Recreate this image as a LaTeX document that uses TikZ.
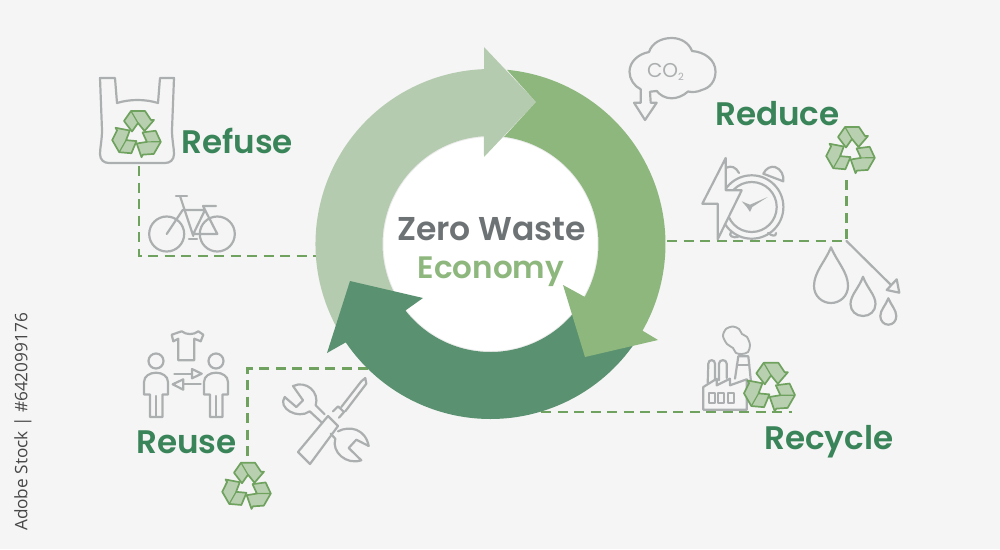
\documentclass[tikz,border=0pt]{standalone}
\usepackage{fontspec}
\setmainfont{Poppins}[BoldFont={Poppins SemiBold}]
\newfontfamily\creditfont{Open Sans}
\definecolor{pagegrey}{HTML}{F5F5F5}
\definecolor{lightring}{HTML}{B5CBB0}
\definecolor{midring}{HTML}{8DB77D}
\definecolor{darkring}{HTML}{5A9170}
\definecolor{labelgreen}{HTML}{3A8459}
\definecolor{titlegrey}{HTML}{6D7275}
\definecolor{icongrey}{HTML}{ACAFB0}
\definecolor{dashgreen}{HTML}{6FA25E}
\definecolor{bladefill}{HTML}{B9D0B0}

\tikzstyle{icon}=[draw=icongrey,line width=2.2pt,line join=round,line cap=round]
\tikzstyle{link}=[draw=dashgreen,line width=2.5pt,dash pattern=on 10pt off 6.5pt]
\tikzstyle{blade}=[draw=dashgreen,fill=bladefill,line width=1.7pt,line join=round]
\tikzstyle{steplabel}=[anchor=base west,inner sep=0pt,text=labelgreen,font=\fontsize{32.6}{33}\selectfont\bfseries]
\tikzstyle{title}=[anchor=base,inner sep=0pt,font=\fontsize{33}{33}\selectfont\bfseries]

\newcommand{\recyclesign}[3]{
	\begin{scope}[shift={(#1,#2)},scale=#3]
		\foreach \turn in {0,-120,-240} {
			\path[blade,rotate=\turn] (-13,-14) -- (-6,-24) -- (8,-24) -- (14,-15) -- (17,-15) -- (7.5,-4) -- (1,-12) -- (-5,-3.5) -- cycle;
			\path[blade,rotate=\turn,line width=1.2pt] (-6,-24) -- (1,-12);
		}
	\end{scope}
}

\begin{document}
\begin{tikzpicture}[x=1pt,y=-1pt]
	\fill[pagegrey] (0,0) rectangle (1000,549);
	\useasboundingbox (0,0) rectangle (1000,549);

	\coordinate (ringcentre) at (490.5,244);

	% links
	\coordinate (bagfoot) at (139,166);
	\coordinate (refusecorner) at (139,256);
	\coordinate (refuseend) at (316,256);
	\draw[link] (bagfoot) -- (refusecorner) -- (refuseend);
	\coordinate (reducestart) at (667,241);
	\coordinate (reducecorner) at (846.5,241);
	\coordinate (reducetop) at (846.5,178);
	\draw[link] (reducestart) -- (reducecorner) -- (reducetop);
	\coordinate (reusestart) at (368,368.5);
	\coordinate (reusecorner) at (247.5,368.5);
	\coordinate (reusefoot) at (247.5,458);
	\draw[link] (reusestart) -- (reusecorner) -- (reusefoot);
	\coordinate (recyclestart) at (541,412);
	\coordinate (recycleend) at (792,412);
	\draw[link] (recyclestart) -- (recycleend);

	% ring
	\draw[fill=white,draw=black!7,line width=2pt] (ringcentre) circle[radius=108];
	\fill[lightring] ([shift={(150:175)}]ringcentre) arc[start angle=150,end angle=267.9,radius=175]
		-- (484,47) -- (536,102) -- (484,157)
		-- ([shift={(266.5:108)}]ringcentre) arc[start angle=266.5,end angle=150,radius=108] -- cycle;
	\fill[darkring] ([shift={(32:175)}]ringcentre) arc[start angle=32,end angle=145.8,radius=175]
		-- (327,353) -- (350,281) -- (423,298)
		-- ([shift={(142:108)}]ringcentre) arc[start angle=142,end angle=32,radius=108] -- cycle;
	\fill[midring] ([shift={(-84.6:175)}]ringcentre) arc[start angle=-84.6,end angle=29.7,radius=175]
		-- (658,340) -- (585,357) -- (563,285)
		-- ([shift={(29.3:108)}]ringcentre) arc[start angle=29.3,end angle=-82.8,radius=108]
		-- (536,102) -- cycle;

	\node[title,text=titlegrey] (zerowaste) at (491.5,240.7) {Zero Waste};
	\node[title,text=midring,font=\fontsize{31}{31}\selectfont\bfseries] (economy) at (491,278) {Economy};

	\node[steplabel] (refuse) at (181,153) {Refuse};
	\node[steplabel] (reduce) at (715,125) {Reduce};
	\node[steplabel] (recycle) at (764,449) {Recycle};
	\node[steplabel] (reuse) at (136,453) {Reuse};

	% bag
	\draw[icon] (100,78) -- (115,78) -- (117,103) .. controls (130,99) and (145,99) .. (158,103) -- (160,78) -- (174,78)
		-- (172,130) .. controls (172,140) and (174,148) .. (174,154) .. controls (174,160) and (170,163) .. (165,163)
		-- (109,163) .. controls (104,163) and (100,160) .. (100,154) .. controls (100,148) and (102,140) .. (102,130) -- cycle;
	\recyclesign{137}{135}{1}

	% bicycle
	\draw[icon] (166.7,234) circle[radius=17.5];
	\draw[icon] (217.3,234) circle[radius=17.5];
	\draw[icon] (176,196) -- (187,196);
	\draw[icon] (180,196) -- (193.3,236);
	\draw[icon] (166.7,234) -- (182.7,210) -- (205,210) -- (193.3,234) -- (217.3,234) -- (203,206) -- (216,206);
	\draw[icon] (189,239) -- (197,239);

	% cloud
	\draw[icon] (640.7,89.3) .. controls (634,86) and (629.5,79) .. (629.5,71.7) .. controls (629.5,62) and (638,54) .. (649,52)
		.. controls (652,43) and (661,38) .. (671.7,38) .. controls (681,38) and (689,43) .. (692,51)
		.. controls (705,52) and (715.5,60) .. (715.5,71.7) .. controls (715.5,81) and (710,88) .. (701.7,90)
		.. controls (698,92) and (692,92.5) .. (688,91.5) .. controls (683,96) and (677,98.3) .. (671.7,98.3)
		.. controls (665,98.3) and (660,95) .. (656.7,91) -- (650,91.7) -- (650.7,102.7) -- (656.7,102.7) -- (645,120)
		-- (634,102.7) -- (640.7,102.7) -- cycle;
	\node[inner sep=0pt,text=icongrey,font=\fontsize{20}{20}\selectfont] (cotwo) at (665.5,72) {CO\raisebox{-3pt}{\fontsize{10}{10}\selectfont 2}};

	% clock
	\draw[icon] (751.7,207) circle[radius=31.7];
	\draw[icon] (751.7,207) circle[radius=25];
	\draw[icon] (763.3,173.7) .. controls (766,168) and (771,166) .. (775,167) .. controls (781,169) and (784,175) .. (783.3,181.3) -- cycle;
	\draw[icon] (727,167.5) .. controls (731,165.5) and (736,167) .. (739,173);
	\draw[icon] (768,233) .. controls (772,236) and (776,237) .. (776,233);
	\draw[icon] (731,232) .. controls (728,236) and (733,238) .. (738,237);
	\fill[icongrey] (767.7,197) -- (752.3,207) -- (750,212) -- (746.7,207) -- (741.7,201.3) -- (750,204.7) -- cycle;
	\draw[icon,fill=pagegrey] (725.7,158) -- (702.3,203.7) -- (717.7,203.7) -- (717.7,239.3) -- (741.7,190.3) -- (725.7,190.3) -- cycle;

	\recyclesign{851}{151}{1}

	% drops
	\coordinate (dropshead) at (891,285);
	\draw[icon] (reducecorner) -- (dropshead);
	\draw[icon] (899.3,292.7) -- (886.7,290) -- (896.7,279.3) -- cycle;
	\draw[icon] (831,247.3) .. controls (825,262) and (814,272) .. (814,286) .. controls (814,296) and (822,303) .. (831,303)
		.. controls (840,303) and (848,296) .. (848,286) .. controls (848,272) and (837,262) .. (831,247.3) -- cycle;
	\draw[icon] (863,276.7) .. controls (859,288) and (850.5,295) .. (850.5,304) .. controls (850.5,311) and (856,316) .. (863,316)
		.. controls (870,316) and (875.5,311) .. (875.5,304) .. controls (875.5,295) and (867,288) .. (863,276.7) -- cycle;
	\draw[icon] (888.3,298.3) .. controls (886,305) and (880.3,310) .. (880.3,316) .. controls (880.3,321) and (884,324.7) .. (888.3,324.7)
		.. controls (893,324.7) and (896.3,321) .. (896.3,316) .. controls (896.3,310) and (891,305) .. (888.3,298.3) -- cycle;

	% factory
	\draw[icon,line width=1.9pt] plot[smooth cycle] coordinates {(733,348) (727,344) (723,336) (726,329) (733,326.5) (739,329) (742,334) (747,337) (750,345) (748,352) (742,354) (736,353)};
	\draw[icon] (707.7,383) -- (708.3,363.7) .. controls (708.3,359) and (715,359) .. (715,363.7) -- (715,380.3);
	\draw[icon] (719,380.3) -- (719,363.7) .. controls (719,359) and (726.7,359) .. (726.7,363.7) -- (726.7,378);
	\draw[icon] (735,378.7) -- (738.3,356.3) -- (748.3,356.3) -- (751,382);
	\draw[icon] (736.7,365.3) -- (749.3,365.3);
	\draw[icon] (703.3,409.7) -- (703.3,387) -- (716.7,378.7) -- (716.7,385.3) -- (730,378.7) -- (730,385.3) -- (746.7,379.3) -- (746.7,409.7) -- cycle;
	\draw[icon] (709,392.7) rectangle (715,403);
	\draw[icon] (718.3,392.7) rectangle (724.3,403);
	\draw[icon] (727.7,392.7) rectangle (734,403);
	\recyclesign{770}{388}{1.05}

	% people
	\draw[icon] (156,361) circle[radius=7.5];
	\draw[icon] (216,361) circle[radius=7.5];
	\draw[icon] (150,417) -- (150,394.5) -- (144,394.5) -- (144,382) .. controls (144,376) and (150,372.7) .. (156,372.7) .. controls (162,372.7) and (168,376) .. (168,382) -- (168,394.5) -- (162.5,394.5) -- (162.5,417) -- cycle;
	\draw[icon] (210,417) -- (210,394.5) -- (204,394.5) -- (204,382) .. controls (204,376) and (210,372.7) .. (216,372.7) .. controls (222,372.7) and (228,376) .. (228,382) -- (228,394.5) -- (222.5,394.5) -- (222.5,417) -- cycle;
	\draw[icon] (156.2,396) -- (156.2,417);
	\draw[icon] (216.2,396) -- (216.2,417);
	\draw[icon] (171.7,334.7) -- (181.7,331.3) .. controls (186,335) and (194,335) .. (198.3,331.3) -- (203.3,334.7) -- (200.7,341.3) -- (194.3,338.7) -- (194.3,360.3) -- (178.3,360.3) -- (178.3,338.7) -- (173.3,341.3) -- cycle;
	\draw[icon] (174.3,373.7) -- (192,373.7);
	\draw[icon] (192,369) -- (201.7,373.7) -- (192,378.3) -- cycle;
	\draw[icon] (200.7,384.3) -- (183.3,384.3);
	\draw[icon] (183.3,379.3) -- (172.7,384.3) -- (183.3,389.7) -- cycle;
	\recyclesign{247}{486.7}{1}

	% tools
	\draw[icon] (324.7,414.3) -- (315.7,405.3) .. controls (319.7,392) and (306.3,380) .. (293,386) -- (303,400.3) -- (296.3,407) -- (284.7,397) .. controls (277,408) and (298,420) .. (309.7,411.3) -- (322.3,423);
	\draw[icon] (338,431.3) .. controls (349.7,425.3) and (365.3,428.7) .. (368.7,446) -- (356.3,439.7) -- (348.7,448) -- (361.3,460.3) .. controls (346.3,465.3) and (331.3,452) .. (335.3,438.7) -- (330.7,433.7);
	\draw[icon] (328,416) -- (338,426) -- (310,464) -- (298,452) -- cycle;
	\draw[icon] (333,411.3) -- (338,406.3) -- (344,412) -- (339,417.7);
	\draw[icon] (341.3,407) -- (361.3,381.3) -- (365.3,378) -- (366.3,383.7) -- (345.3,411.3);

	\node[inner sep=0pt,rotate=90,text=black!72,font=\creditfont\fontsize{17.2}{17.2}\selectfont] (credit) at (23,422) {Adobe Stock | \#642099176};
\end{tikzpicture}
\end{document}
